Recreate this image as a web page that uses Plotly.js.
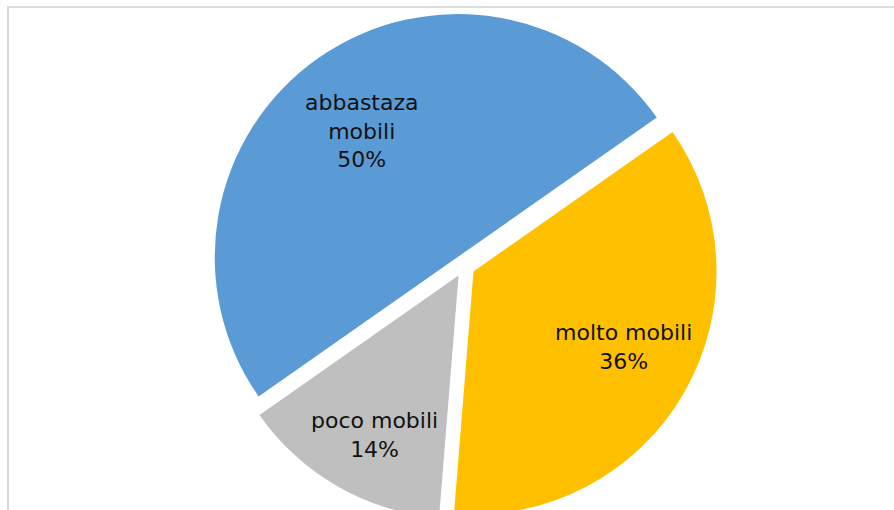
<!DOCTYPE html>
<html>
<head>
<meta charset="utf-8">
<script src="https://cdn.plot.ly/plotly-3.0.1.min.js"></script>
<style>
  html, body { margin: 0; padding: 0; width: 894px; height: 510px; overflow: hidden; background: #fff; }
  #chart { position: absolute; left: 0; top: 0; width: 894px; height: 530px; }
  #frame { position: absolute; left: 7px; top: 6px; width: 1000px; height: 1000px;
           border: 2px solid #dcdcdc; pointer-events: none; }
</style>
</head>
<body>
<div id="chart"></div>
<div id="frame"></div>
<script>
// Data (order as drawn clockwise from the upper-right boundary)
const categories = ['molto mobili', 'poco mobili', 'abbastaza mobili'];
const displayLabels = ['molto mobili', 'poco mobili', 'abbastaza<br>mobili'];
const values = [36, 14, 50];
const sliceColors = ['#FFC000', '#BFBFBF', '#5B9BD5'];

// Styling / label placement (fraction of radius, angle nudge in degrees)
const labelRadius = [0.738, 0.786, 0.696];
const labelAngleNudge = [2.9, 2.0, 2.1];

const W = 894, H = 530;
const rotation = 55;
const pullAmt = 0.045;
const dom = { x: [0.2349, 0.8031], y: [0.0189, 0.9774] };

const trace = {
  type: 'pie',
  labels: categories,
  values: values,
  sort: false,
  direction: 'clockwise',
  rotation: rotation,
  pull: values.map(() => pullAmt),
  marker: { colors: sliceColors, line: { width: 0 } },
  textinfo: 'none',
  hoverinfo: 'label+percent',
  showlegend: false,
  domain: dom
};

// Data labels: placed around each slice's mid-angle
const total = values.reduce((a, b) => a + b, 0);
const rPx = Math.min(W * (dom.x[1] - dom.x[0]), H * (dom.y[1] - dom.y[0])) / 2 / (1 + pullAmt);
const cxP = (dom.x[0] + dom.x[1]) / 2, cyP = (dom.y[0] + dom.y[1]) / 2;
let cum = 0;
const annotations = values.map((v, i) => {
  const frac = (cum + v / 2) / total;
  cum += v;
  const theta = (90 - (rotation + 360 * frac) + labelAngleNudge[i]) * Math.PI / 180;
  const pct = Math.round(100 * v / total) + '%';
  return {
    xref: 'paper', yref: 'paper',
    x: cxP + rPx * labelRadius[i] * Math.cos(theta) / W,
    y: cyP + rPx * labelRadius[i] * Math.sin(theta) / H,
    text: displayLabels[i] + '<br>' + pct,
    showarrow: false,
    xanchor: 'center', yanchor: 'middle', align: 'center',
    font: { family: 'DejaVu Sans, Verdana, sans-serif', size: 22, color: '#111111' }
  };
});

const layout = {
  width: W,
  height: H,
  margin: { l: 0, r: 0, t: 0, b: 0 },
  paper_bgcolor: '#ffffff',
  plot_bgcolor: '#ffffff',
  showlegend: false,
  annotations: annotations,
  font: { family: 'DejaVu Sans, Verdana, sans-serif', color: '#111111' }
};

Plotly.newPlot('chart', [trace], layout, { displayModeBar: false, staticPlot: true });
</script>
</body>
</html>
